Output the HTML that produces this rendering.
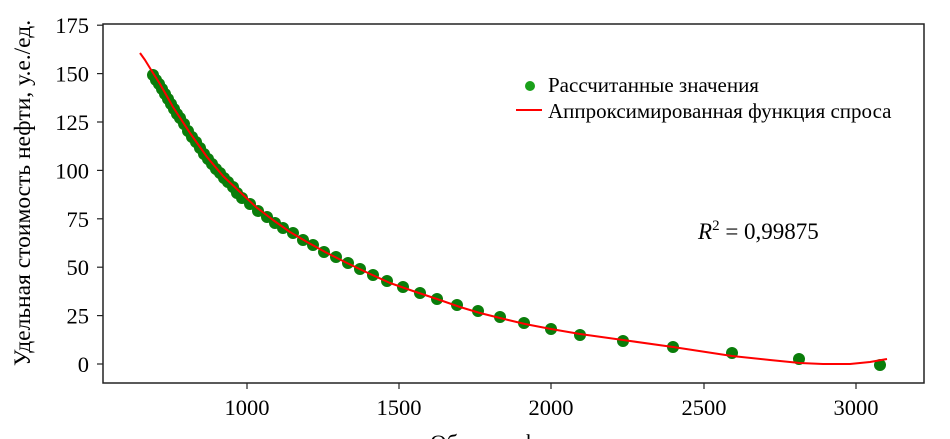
<!DOCTYPE html>
<html><head><meta charset="utf-8"><style>
html,body{margin:0;padding:0;background:#fff;}
svg{display:block;font-family:"Liberation Serif",serif;}
</style></head><body>
<svg width="950" height="439" viewBox="0 0 950 439" xmlns="http://www.w3.org/2000/svg">
<rect width="950" height="439" fill="#fff"/>
<rect x="103" y="24" width="821" height="359" fill="none" stroke="#222" stroke-width="1.5"/>
<g stroke="#222" stroke-width="1.2">
<line x1="97" y1="364" x2="103" y2="364"/><line x1="97" y1="315.6" x2="103" y2="315.6"/>
<line x1="97" y1="267.2" x2="103" y2="267.2"/><line x1="97" y1="218.8" x2="103" y2="218.8"/>
<line x1="97" y1="170.4" x2="103" y2="170.4"/><line x1="97" y1="122" x2="103" y2="122"/>
<line x1="97" y1="73.6" x2="103" y2="73.6"/><line x1="97" y1="25.2" x2="103" y2="25.2"/>
<line x1="247" y1="383" x2="247" y2="389"/><line x1="399" y1="383" x2="399" y2="389"/>
<line x1="551" y1="383" x2="551" y2="389"/><line x1="704" y1="383" x2="704" y2="389"/>
<line x1="856" y1="383" x2="856" y2="389"/>
</g>
<g font-size="22.5" fill="#000" text-anchor="end">
<text x="89" y="372">0</text><text x="89" y="323.6">25</text><text x="89" y="275.2">50</text>
<text x="89" y="226.8">75</text><text x="89" y="178.4">100</text><text x="89" y="130">125</text>
<text x="89" y="81.6">150</text><text x="89" y="33.2">175</text>
</g>
<g font-size="22.5" fill="#000" text-anchor="middle">
<text x="247" y="415">1000</text><text x="399" y="415">1500</text><text x="551" y="415">2000</text>
<text x="704" y="415">2500</text><text x="856" y="415">3000</text>
<text x="513" y="450">Объем нефти, ед.</text>
</g>
<text transform="translate(30,193) rotate(-90)" font-size="23.5" text-anchor="middle" fill="#000">Удельная стоимость нефти, у.е./ед.</text>
<g fill="#0a7d0a">
<circle cx="153" cy="75" r="6"/><circle cx="156" cy="80" r="6"/><circle cx="159" cy="84" r="6"/><circle cx="162" cy="89" r="6"/><circle cx="165" cy="94" r="6"/><circle cx="168" cy="99" r="6"/><circle cx="171" cy="104" r="6"/><circle cx="174" cy="109" r="6"/><circle cx="177" cy="114" r="6"/><circle cx="180" cy="118" r="6"/><circle cx="184" cy="124" r="6"/><circle cx="188" cy="131" r="6"/><circle cx="192" cy="137" r="6"/><circle cx="196" cy="142" r="6"/><circle cx="200" cy="148" r="6"/><circle cx="204" cy="154" r="6"/><circle cx="208" cy="159" r="6"/><circle cx="212" cy="164" r="6"/><circle cx="216" cy="169" r="6"/><circle cx="220" cy="173" r="6"/><circle cx="224" cy="178" r="6"/><circle cx="228" cy="182" r="6"/><circle cx="233" cy="187" r="6"/><circle cx="237" cy="193" r="6"/>
<circle cx="242" cy="198" r="6"/><circle cx="250" cy="204" r="6"/><circle cx="258" cy="211" r="6"/><circle cx="267" cy="217" r="6"/><circle cx="275" cy="223" r="6"/><circle cx="283" cy="228" r="6"/><circle cx="293" cy="233" r="6"/><circle cx="303" cy="240" r="6"/><circle cx="313" cy="245" r="6"/><circle cx="324" cy="252" r="6"/><circle cx="336" cy="257" r="6"/><circle cx="348" cy="263" r="6"/><circle cx="360" cy="269" r="6"/><circle cx="373" cy="275" r="6"/><circle cx="387" cy="281" r="6"/><circle cx="403" cy="287" r="6"/><circle cx="420" cy="293" r="6"/><circle cx="437" cy="299" r="6"/><circle cx="457" cy="305" r="6"/><circle cx="478" cy="311" r="6"/><circle cx="500" cy="317" r="6"/><circle cx="524" cy="323" r="6"/><circle cx="551" cy="329" r="6"/><circle cx="580" cy="335" r="6"/><circle cx="623" cy="341" r="6"/><circle cx="673" cy="347" r="6"/><circle cx="732" cy="353" r="6"/><circle cx="799" cy="359" r="6"/><circle cx="880" cy="365" r="6"/>
</g>
<polyline fill="none" stroke="#ff0000" stroke-width="2" stroke-linejoin="round" points="140,53 145,60 153,73 160,84 173,107 190,133 207,157 223,176 240,192 256,207 273,220 290,232 307,242 327,253 347,263 368,273 390,283 413,291 437,299 460,307 480,313 500,318 525,324 551,329 580,334 623,340 673,347 732,356 770,360 800,363 823,364 850,364 870,362 887,359"/>
<circle cx="530" cy="86" r="5" fill="#1aa01a"/>
<text x="548" y="92" font-size="21" fill="#000">Рассчитанные значения</text>
<line x1="516" y1="110" x2="542" y2="110" stroke="#ff0000" stroke-width="2"/>
<text x="548" y="118" font-size="21" fill="#000">Аппроксимированная функция спроса</text>
<text x="698" y="239" font-size="23" fill="#000"><tspan font-style="italic">R</tspan><tspan font-size="15" dy="-9">2</tspan><tspan dy="9"> = 0,99875</tspan></text>
</svg>
</body></html>
